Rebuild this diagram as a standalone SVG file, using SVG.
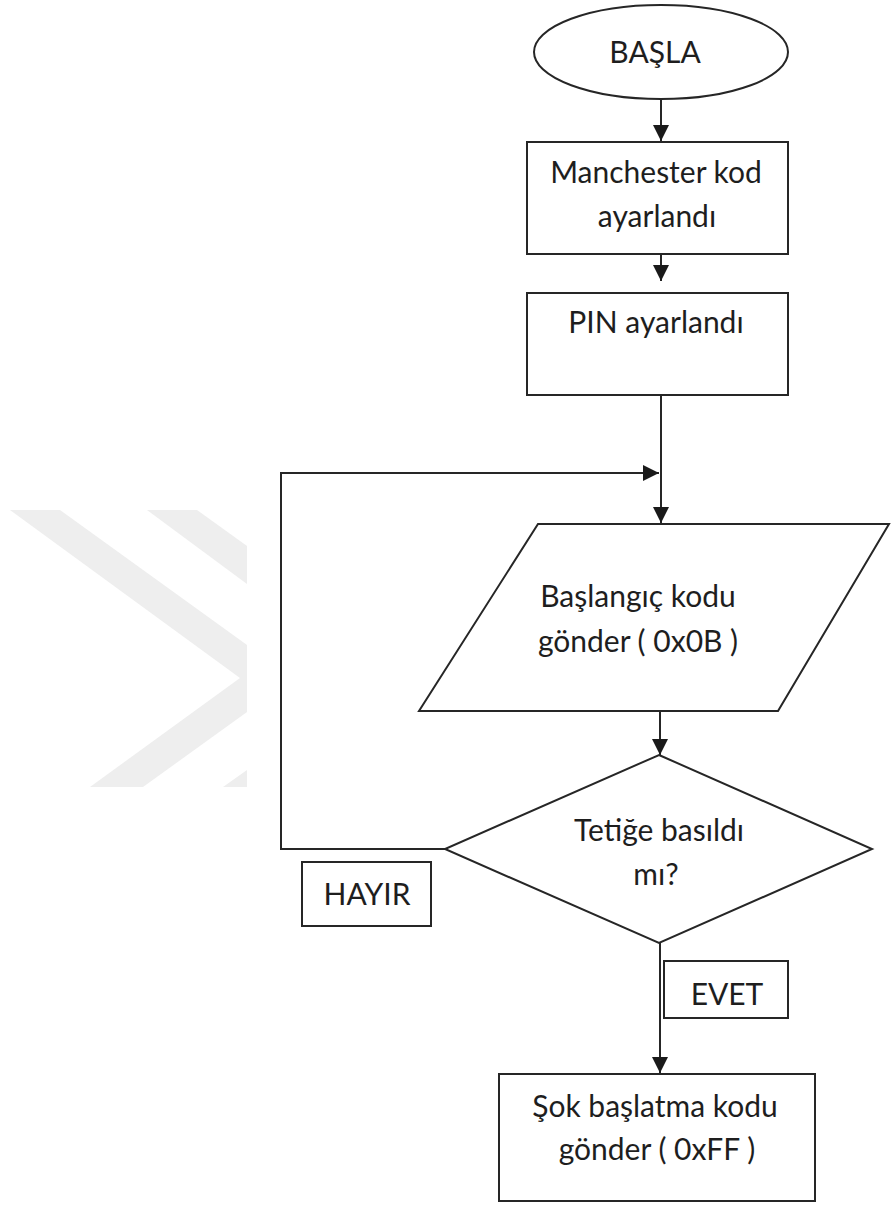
<svg xmlns="http://www.w3.org/2000/svg" width="891" height="1205" viewBox="0 0 891 1205">
  <defs>
    <marker id="arrow" markerUnits="userSpaceOnUse" markerWidth="16" markerHeight="16" refX="16" refY="8" orient="auto">
      <path d="M0,0 L16,8 L0,16 z" fill="#1a1a1a"/>
    </marker>
    <style>
      .shape { fill: #ffffff; stroke: #262626; stroke-width: 2; }
      .conn { fill: none; stroke: #262626; stroke-width: 2; }
      .txt { font-family: Lato, "Liberation Sans", sans-serif; font-size: 30px; fill: #1e1e1e; text-anchor: middle; }
      .wm { fill: #eeeeee; stroke: none; }
    </style>
  </defs>
  <rect width="891" height="1205" fill="#ffffff"/>

  <g id="watermark">
    <polygon class="wm" points="10,510 60,510 247,645 247,712 143,787 90,787 240,678"/>
    <polygon class="wm" points="147,510 197,510 247,546 247,584"/>
    <polygon class="wm" points="223,787 247,787 247,770"/>
  </g>

  <g id="connectors">
    <line class="conn" x1="661" y1="99" x2="661" y2="141" marker-end="url(#arrow)"/>
    <line class="conn" x1="661" y1="254" x2="661" y2="281" marker-end="url(#arrow)"/>
    <line class="conn" x1="661" y1="395" x2="661" y2="523" marker-end="url(#arrow)"/>
    <line class="conn" x1="660" y1="711" x2="660" y2="755" marker-end="url(#arrow)"/>
    <polyline class="conn" points="445,849 281,849 281,473 659,473" marker-end="url(#arrow)"/>
    <line class="conn" x1="660" y1="943" x2="660" y2="1073" marker-end="url(#arrow)"/>
  </g>

  <g id="start">
    <ellipse class="shape" cx="661" cy="52" rx="127" ry="47"/>
    <text class="txt" x="655" y="63">BAŞLA</text>
  </g>

  <g id="manchester">
    <rect class="shape" x="527" y="142" width="261" height="112"/>
    <text class="txt" x="656" y="183">Manchester kod</text>
    <text class="txt" x="657" y="227">ayarlandı</text>
  </g>

  <g id="pin">
    <rect class="shape" x="527" y="293" width="261" height="102"/>
    <text class="txt" x="656" y="333">PIN ayarlandı</text>
  </g>

  <g id="send-start">
    <polygon class="shape" points="538,524 889,524 778,711 419,711"/>
    <text class="txt" x="638" y="607">Başlangıç kodu</text>
    <text class="txt" x="638" y="652">gönder ( 0x0B )</text>
  </g>

  <g id="decision">
    <polygon class="shape" points="659,755 872,849 659,943 445,849"/>
    <text class="txt" x="659" y="841">Tetiğe basıldı</text>
    <text class="txt" x="656" y="885">mı?</text>
  </g>

  <g id="label-hayir">
    <rect class="shape" x="302" y="862" width="129" height="64"/>
    <text class="txt" x="367" y="905">HAYIR</text>
  </g>

  <g id="label-evet">
    <rect class="shape" x="664" y="961" width="124" height="57"/>
    <text class="txt" x="727" y="1005">EVET</text>
  </g>

  <g id="send-shock">
    <rect class="shape" x="499" y="1074" width="316" height="127"/>
    <text class="txt" x="655" y="1117">Şok başlatma kodu</text>
    <text class="txt" x="657" y="1160">gönder ( 0xFF )</text>
  </g>
</svg>
